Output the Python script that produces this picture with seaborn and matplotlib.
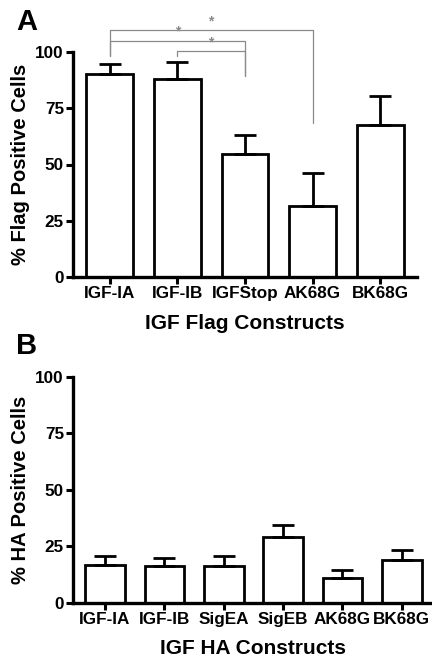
import numpy as np
import seaborn as sns
import matplotlib.pyplot as plt

# panel A: flag constructs
flag_names = ["IGF-IA", "IGF-IB", "IGFStop", "AK68G", "BK68G"]
flag_mean = [90, 88, 54.7, 31.7, 67.7]
flag_err = [4.7, 7.7, 8.3, 14.5, 12.9]

# panel B: HA constructs
ha_names = ["IGF-IA", "IGF-IB", "SigEA", "SigEB", "AK68G", "BK68G"]
ha_mean = [16.8, 16.4, 16.2, 29.2, 10.8, 18.9]
ha_err = [3.8, 3.5, 4.4, 5.2, 3.9, 4.4]

# significance brackets (left bar, right bar, bracket height, left leg end, right leg end)
brackets = [(0, 3, 109.6, 98, 68.3), (0, 2, 105, 98, 89.3), (1, 2, 100.4, 98, 89.3)]

sns.set_style("ticks")
plt.rcParams['font.family'] = ['Liberation Sans', 'DejaVu Sans']
plt.rcParams['font.weight'] = 'bold'
for k in ["text.color", "axes.labelcolor", "xtick.color", "ytick.color", "axes.edgecolor"]:
    plt.rcParams[k] = "black"

fig = plt.figure(figsize=(4.32, 6.58), dpi=100)
axA = fig.add_axes([0.169, 0.579, 0.796, 0.342])
axB = fig.add_axes([0.169, 0.084, 0.831, 0.343])


def draw_panel(ax, names, means, errs, width, xlabel, ylabel, right):
    sns.barplot(x=names, y=means, color="white", edgecolor="black",
                linewidth=2.0, width=width, saturation=1, ax=ax)
    pos = np.arange(len(names))
    ax.errorbar(pos, means, yerr=[np.zeros(len(errs)), errs], fmt="none",
                ecolor="black", elinewidth=2.0, capsize=8, capthick=2.0)
    ax.set_ylim(0, 100)
    ax.set_xlim(-0.54, right)
    ax.set_yticks([0, 25, 50, 75, 100])
    for s in ["left", "bottom"]:
        ax.spines[s].set_linewidth(2.4)
    sns.despine(ax=ax)
    ax.tick_params(axis="both", width=2.2, length=5, labelsize=12.3, pad=1.5)
    ax.set_xlabel(xlabel, fontsize=15, fontweight="bold", labelpad=9)
    ax.set_ylabel(ylabel, fontsize=14.5, fontweight="bold", labelpad=4)
    for lab in ax.get_xticklabels() + ax.get_yticklabels():
        lab.set_fontweight("bold")


draw_panel(axA, flag_names, flag_mean, flag_err, 0.69,
           "IGF Flag Constructs", "% Flag Positive Cells", 4.54)
draw_panel(axB, ha_names, ha_mean, ha_err, 0.67,
           "IGF HA Constructs", "% HA Positive Cells", 5.51)

grey = "#8a8a8a"
for a, b, h, la, lb in brackets:
    axA.plot([a, a, b, b], [la, h, h, lb], color=grey, lw=0.9, clip_on=False)
    axA.text((a + b) / 2, h + 0.8, "*", color=grey, fontsize=10,
             ha="center", va="bottom")

fig.text(0.038, 0.988, "A", fontsize=21, fontweight="bold", va="top")
fig.text(0.038, 0.495, "B", fontsize=21, fontweight="bold", va="top")

fig.savefig("out.png", dpi=100)
